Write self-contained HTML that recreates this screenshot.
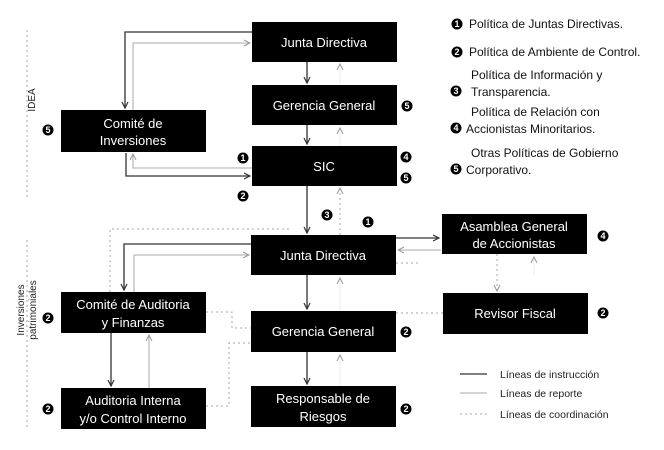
<!DOCTYPE html>
<html><head><style>
body{margin:0;background:#fff;}
svg{display:block;font-family:"Liberation Sans",sans-serif;}
.bx{fill:#000;}
.t{fill:#fff;font-size:13px;text-anchor:middle;}
.d{stroke:#333;stroke-width:1.3;fill:none;}
.g{stroke:#aaa;stroke-width:1;fill:none;}
.f{stroke:#eee;stroke-width:1;fill:none;}
.c{stroke:#aaa;stroke-width:1;fill:none;stroke-dasharray:2,3;}
.b circle{fill:#000;}
.b text{fill:#fff;font-size:9px;font-weight:bold;text-anchor:middle;}
.lg{font-size:12px;fill:#111;}
.sm{font-size:10px;fill:#222;}
</style></head><body>
<svg width="664" height="450" viewBox="0 0 664 450">
<defs>
<marker id="a" markerWidth="8" markerHeight="8" refX="7" refY="4" orient="auto" markerUnits="userSpaceOnUse"><path d="M1,1 L7,4 L1,7" fill="none" stroke="#333" stroke-width="1.2"/></marker>
<marker id="ag" markerWidth="8" markerHeight="8" refX="7" refY="4" orient="auto" markerUnits="userSpaceOnUse"><path d="M1,1 L7,4 L1,7" fill="none" stroke="#999" stroke-width="1"/></marker>
</defs>
<path class="d" d="M252,32 H125 V108" marker-end="url(#a)"/>
<path class="g" d="M133,110 V43 H250" marker-end="url(#ag)"/>
<path class="d" d="M307,62 V83" marker-end="url(#a)"/>
<path class="f" d="M340,85 V64" marker-end="url(#ag)"/>
<path class="d" d="M307,125 V144" marker-end="url(#a)"/>
<path class="f" d="M340,146 V128" marker-end="url(#ag)"/>
<path class="g" d="M252,168 H133 V154" marker-end="url(#ag)"/>
<path class="d" d="M126,153 V176 H250" marker-end="url(#a)"/>
<path class="d" d="M307,186 V233" marker-end="url(#a)"/>
<path class="c" d="M340,235 V188" marker-end="url(#ag)"/>
<path class="c" d="M110,292 V229 H290"/>
<path class="d" d="M251,244 H124 V290" marker-end="url(#a)"/>
<path class="g" d="M134,292 V255 H249" marker-end="url(#ag)"/>
<path class="d" d="M307,275 V309" marker-end="url(#a)"/>
<path class="f" d="M340,311 V278" marker-end="url(#ag)"/>
<path class="d" d="M307,352 V384" marker-end="url(#a)"/>
<path class="f" d="M340,386 V355" marker-end="url(#ag)"/>
<path class="d" d="M396,238 H439" marker-end="url(#a)"/>
<path class="g" d="M441,250 H398" marker-end="url(#ag)"/>
<path class="c" d="M396,263 H420"/>
<path class="c" d="M497,254 V291" marker-end="url(#ag)"/>
<path class="f" d="M534,275 V257" marker-end="url(#ag)"/>
<path class="c" d="M396,313 H443"/>
<path class="c" d="M206,312 H232 V328 H251"/>
<path class="c" d="M206,406 H229 V343 H251"/>
<path class="d" d="M111,333 V386" marker-end="url(#a)"/>
<path class="g" d="M149,388 V335" marker-end="url(#ag)"/>
<path class="c" d="M27,30 V200" stroke="#ddd"/>
<path class="c" d="M27,240 V430" stroke="#ddd"/>
<rect class="bx" x="252" y="22" width="145" height="40"/><text class="t" x="324" y="47">Junta Directiva</text>
<rect class="bx" x="252" y="85" width="145" height="40"/><text class="t" x="324" y="110">Gerencia General</text>
<rect class="bx" x="61" y="110" width="145" height="42"/><text class="t" x="133" y="128">Comité de</text><text class="t" x="133" y="145">Inversiones</text>
<rect class="bx" x="252" y="146" width="145" height="40"/><text class="t" x="324" y="171">SIC</text>
<rect class="bx" x="251" y="235" width="145" height="40"/><text class="t" x="323" y="260">Junta Directiva</text>
<rect class="bx" x="442" y="214" width="145" height="40"/><text class="t" x="514" y="231">Asamblea General</text><text class="t" x="514" y="248">de Accionistas</text>
<rect class="bx" x="61" y="292" width="145" height="41"/><text class="t" x="133" y="309">Comité de Auditoria</text><text class="t" x="133" y="327">y Finanzas</text>
<rect class="bx" x="251" y="311" width="145" height="41"/><text class="t" x="323" y="336">Gerencia General</text>
<rect class="bx" x="443" y="293" width="145" height="41"/><text class="t" x="515" y="318">Revisor Fiscal</text>
<rect class="bx" x="61" y="388" width="145" height="41"/><text class="t" x="133" y="405">Auditoria Interna</text><text class="t" x="133" y="423">y/o Control Interno</text>
<rect class="bx" x="251" y="386" width="145" height="41"/><text class="t" x="323" y="403">Responsable de</text><text class="t" x="323" y="421">Riesgos</text>
<text class="sm" transform="translate(35,100) rotate(-90)" text-anchor="middle">IDEA</text>
<text class="sm" transform="translate(24,310) rotate(-90)" text-anchor="middle">Inversiones</text>
<text class="sm" transform="translate(36,310) rotate(-90)" text-anchor="middle">patrimoniales</text>
<g class="b">
<circle cx="407" cy="106" r="5.5"/><text x="407" y="109">5</text>
<circle cx="48" cy="130" r="5.5"/><text x="48" y="133">5</text>
<circle cx="243" cy="158" r="5.5"/><text x="243" y="161">1</text>
<circle cx="406" cy="157" r="5.5"/><text x="406" y="160">4</text>
<circle cx="406" cy="178" r="5.5"/><text x="406" y="181">5</text>
<circle cx="243" cy="196" r="5.5"/><text x="243" y="199">2</text>
<circle cx="327" cy="215" r="5.5"/><text x="327" y="218">3</text>
<circle cx="368" cy="222" r="5.5"/><text x="368" y="225">1</text>
<circle cx="603" cy="236" r="5.5"/><text x="603" y="239">4</text>
<circle cx="48" cy="318" r="5.5"/><text x="48" y="321">2</text>
<circle cx="406" cy="332" r="5.5"/><text x="406" y="335">2</text>
<circle cx="603" cy="313" r="5.5"/><text x="603" y="316">2</text>
<circle cx="48" cy="409" r="5.5"/><text x="48" y="412">2</text>
<circle cx="406" cy="409" r="5.5"/><text x="406" y="412">2</text>
<circle cx="457" cy="24" r="5.5"/><text x="457" y="27">1</text>
<circle cx="457" cy="52" r="5.5"/><text x="457" y="55">2</text>
<circle cx="456" cy="91" r="5.5"/><text x="456" y="94">3</text>
<circle cx="456" cy="128" r="5.5"/><text x="456" y="131">4</text>
<circle cx="456" cy="169" r="5.5"/><text x="456" y="172">5</text>
</g>
<text class="lg" x="469" y="28">Política de Juntas Directivas.</text>
<text class="lg" x="469" y="56">Política de Ambiente de Control.</text>
<text class="lg" x="471" y="79">Política de Información y</text>
<text class="lg" x="471" y="96">Transparencia.</text>
<text class="lg" x="471" y="116">Política de Relación con</text>
<text class="lg" x="466" y="133">Accionistas Minoritarios.</text>
<text class="lg" x="471" y="157">Otras Políticas de Gobierno</text>
<text class="lg" x="466" y="174">Corporativo.</text>
<line x1="460" y1="374" x2="487" y2="374" stroke="#333" stroke-width="1.2"/>
<line x1="460" y1="393" x2="487" y2="393" stroke="#aaa" stroke-width="1"/>
<line x1="460" y1="414" x2="487" y2="414" class="c"/>
<text x="500" y="378" font-size="10.5" fill="#222">Líneas de instrucción</text>
<text x="500" y="397" font-size="10.5" fill="#222">Líneas de reporte</text>
<text x="500" y="418" font-size="10.5" fill="#222">Líneas de coordinación</text>
</svg>
</body></html>
